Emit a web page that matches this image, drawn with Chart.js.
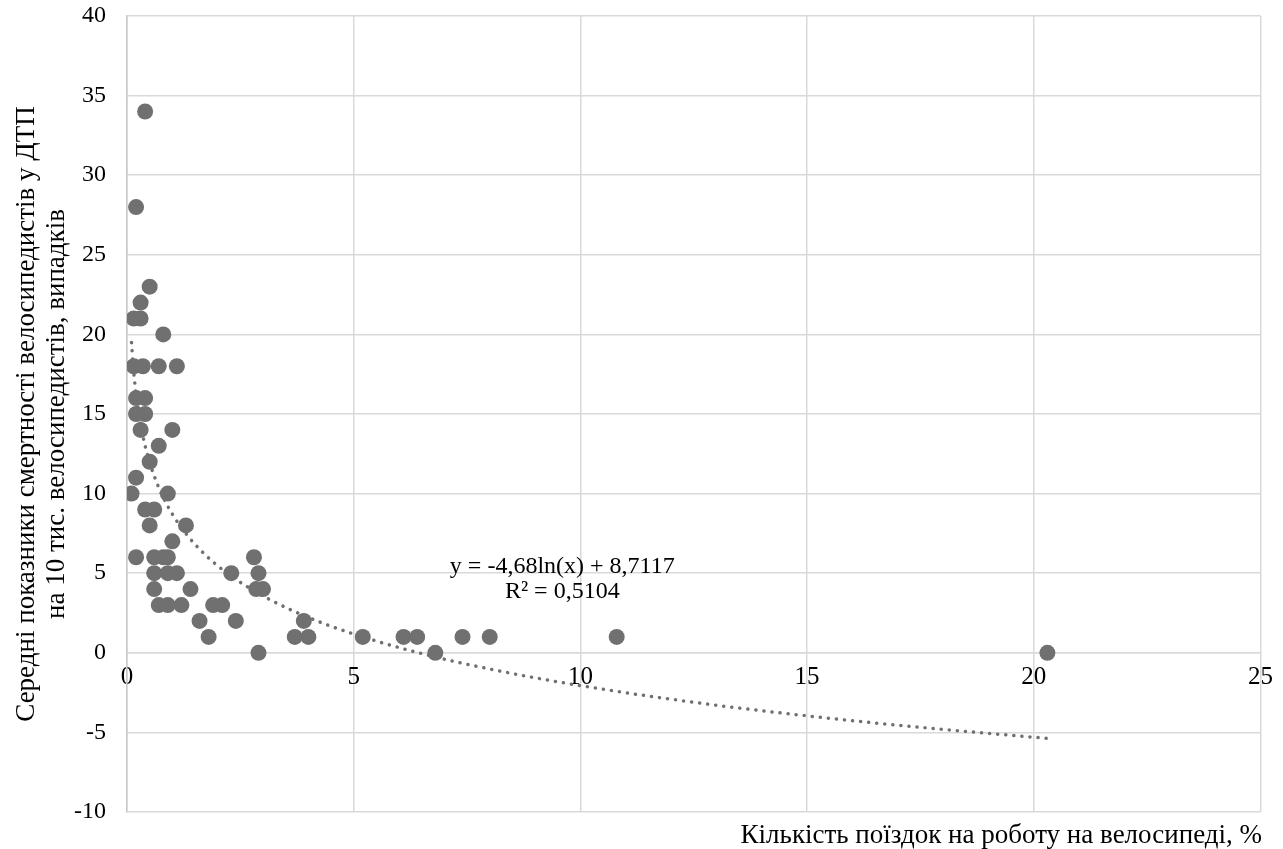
<!DOCTYPE html>
<html>
<head>
<meta charset="utf-8">
<script src="https://cdn.jsdelivr.net/npm/chart.js@4.4.1/dist/chart.umd.min.js"></script>
<style>
    html, body { margin: 0; padding: 0; background: #ffffff; }
    #wrap { width: 1283px; height: 849px; }
</style>
</head>
<body>
<div id="wrap"><canvas id="chart"></canvas></div>
<script>
// share of cycling commute trips, % (x) and cyclist deaths per 10k cyclists (y)
const tripsShare = [
    0.4, 0.2, 0.5, 0.3, 0.15, 0.3, 0.8,
    0.15, 0.35, 0.7, 1.1,
    0.2, 0.4, 0.2, 0.4, 0.3, 1.0, 0.7, 0.5, 0.2,
    0.1, 0.9, 0.4, 0.6, 0.5, 1.3, 1.0,
    0.2, 0.6, 0.8, 0.9, 2.8,
    0.6, 0.9, 1.1, 2.3, 2.9,
    0.6, 1.4, 2.85, 3.0,
    0.7, 0.9, 1.2, 1.9, 2.1,
    1.6, 2.4, 3.9,
    1.8, 3.7, 4.0, 5.2, 6.1, 6.4, 7.4, 8.0, 10.8,
    2.9, 6.8, 20.3
];
const deathRate = [
    34, 28, 23, 22, 21, 21, 20,
    18, 18, 18, 18,
    16, 16, 15, 15, 14, 14, 13, 12, 11,
    10, 10, 9, 9, 8, 8, 7,
    6, 6, 6, 6, 6,
    5, 5, 5, 5, 5,
    4, 4, 4, 4,
    3, 3, 3, 3, 3,
    2, 2, 2,
    1, 1, 1, 1, 1, 1, 1, 1, 1,
    0, 0, 0
];

// logarithmic trend as printed on the chart: y = a*ln(x) + b
const trendA = -4.68;
const trendB = 8.7117;
const trendX = [0.1, 0.13, 0.17, 0.22, 0.3, 0.4, 0.5, 0.65, 0.8, 1, 1.3, 1.7, 2.2, 3, 4, 5, 6.5, 8, 10, 12.5, 15, 17.5, 20.3];

const xTicks = [0, 5, 10, 15, 20, 25];
const yTicks = [40, 35, 30, 25, 20, 15, 10, 5, 0, -5, -10];

const eqLines = ['y = -4,68ln(x) + 8,7117', 'R² = 0,5104'];
const eqAnchor = [9.6, 5.4];

const xTitle = 'Кількість поїздок на роботу на велосипеді, %';
const yTitle = ['Середні показники смертності велосипедистів у ДТП', 'на 10 тис. велосипедистів, випадків'];

const FONT = "'Liberation Serif', 'Times New Roman', serif";
const GRID = '#d9d9d9';
const MARK = '#707070';

const scatterPoints = tripsShare.map((x, i) => ({ x: x, y: deathRate[i] }));
const trendPoints = trendX.map(x => ({ x: x, y: trendA * Math.log(x) + trendB }));

const eqLabel = {
    id: 'eqLabel',
    afterDatasetsDraw(chart) {
        const { ctx, scales: { x, y } } = chart;
        const cx = x.getPixelForValue(eqAnchor[0]);
        const cy = y.getPixelForValue(eqAnchor[1]);
        ctx.save();
        ctx.font = '24px ' + FONT;
        ctx.fillStyle = '#000000';
        ctx.textAlign = 'center';
        ctx.textBaseline = 'middle';
        ctx.fillText(eqLines[0], cx, cy);
        ctx.fillText(eqLines[1], cx, cy + 25);
        ctx.restore();
    }
};

const whiteBg = {
    id: 'whiteBg',
    beforeDraw(chart) {
        const ctx = chart.ctx;
        ctx.save();
        ctx.fillStyle = '#ffffff';
        ctx.fillRect(0, 0, chart.width, chart.height);
        ctx.restore();
    }
};

const ctx = document.getElementById('chart').getContext('2d');
new Chart(ctx, {
    type: 'scatter',
    data: {
        datasets: [{
            label: 'trend',
            type: 'line',
            data: trendPoints,
            borderColor: MARK,
            borderWidth: 3.5,
            borderDash: [0.1, 8],
            borderCapStyle: 'round',
            pointRadius: 0,
            fill: false,
            cubicInterpolationMode: 'monotone'
        }, {
            label: 'data',
            data: scatterPoints,
            pointRadius: 8,
            pointHoverRadius: 8,
            backgroundColor: MARK,
            borderColor: MARK,
            borderWidth: 0
        }]
    },
    options: {
        responsive: true,
        maintainAspectRatio: false,
        animation: false,
        layout: {
            padding: { top: 0, right: 21, bottom: 0, left: 12 }
        },
        scales: {
            x: {
                type: 'linear',
                position: { y: 0 },
                min: 0,
                max: 25,
                afterFit: (scale) => { scale.height = 0; },
                afterBuildTicks: (scale) => { scale.ticks = xTicks.map(v => ({ value: v })); },
                ticks: {
                    color: '#000000',
                    font: { family: FONT, size: 25 },
                    padding: 10,
                    maxRotation: 0
                },
                grid: { color: GRID, lineWidth: 1.5, drawTicks: false },
                border: { color: GRID, width: 1.5 }
            },
            y: {
                type: 'linear',
                position: 'left',
                min: -10,
                max: 40,
                afterFit: (scale) => {
                    scale.width = 115;
                    scale.paddingTop = 16;
                    scale.paddingBottom = 0;
                },
                afterBuildTicks: (scale) => { scale.ticks = yTicks.map(v => ({ value: v })); },
                ticks: {
                    color: '#000000',
                    font: { family: FONT, size: 24 },
                    padding: 21
                },
                grid: { color: GRID, lineWidth: 1.5, drawTicks: false },
                border: { color: '#c8c8c8', width: 1.5 },
                title: {
                    display: true,
                    text: yTitle,
                    color: '#000000',
                    font: { family: FONT, size: 27, lineHeight: 1.1 },
                    padding: { top: 0, bottom: 2 }
                }
            }
        },
        plugins: {
            legend: { display: false },
            tooltip: { enabled: false },
            title: {
                display: true,
                position: 'bottom',
                align: 'end',
                text: xTitle,
                color: '#000000',
                font: { family: FONT, size: 27, weight: 'normal', lineHeight: 1.0 },
                padding: { top: 10, bottom: 0 }
            }
        }
    },
    plugins: [whiteBg, eqLabel]
});
</script>
</body>
</html>
